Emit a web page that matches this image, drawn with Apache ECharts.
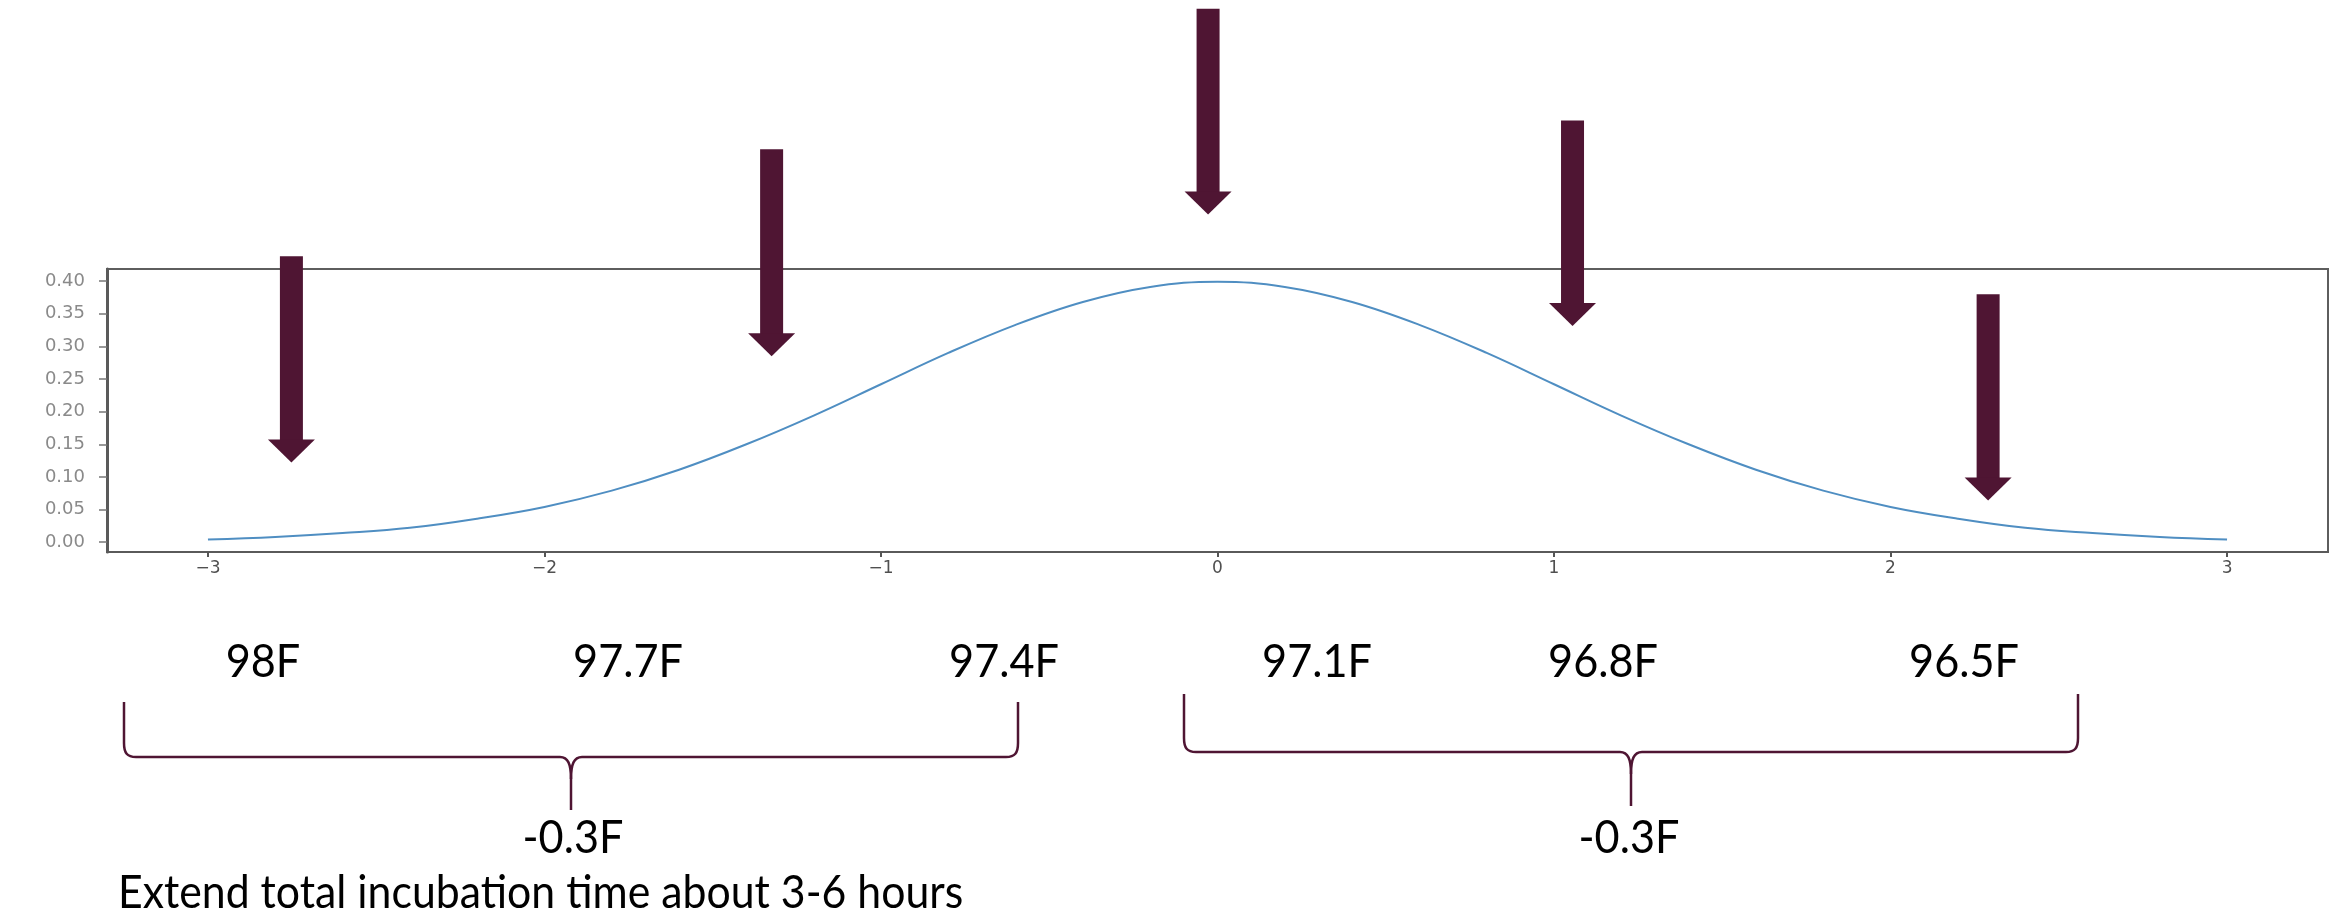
<!DOCTYPE html>
<html>
<head>
<meta charset="utf-8">
<script src="https://cdn.jsdelivr.net/npm/echarts@6/dist/echarts.min.js"></script>
<style>
html,body{margin:0;padding:0;background:#fff;}
#chart{width:2340px;height:919px;}
</style>
</head>
<body>
<div id="chart"></div>
<script>
// ---- data ----
var curveX = [-3, -2.8, -2.6, -2.4, -2.2, -2, -1.8, -1.6, -1.4, -1.2, -1, -0.8, -0.6, -0.4, -0.2, 0, 0.2, 0.4, 0.6, 0.8, 1, 1.2, 1.4, 1.6, 1.8, 2, 2.2, 2.4, 2.6, 2.8, 3];
var curveY = [0.004, 0.008, 0.014, 0.022, 0.036, 0.054, 0.079, 0.111, 0.150, 0.194, 0.242, 0.290, 0.333, 0.368, 0.391, 0.399, 0.391, 0.368, 0.333, 0.290, 0.242, 0.194, 0.150, 0.111, 0.079, 0.054, 0.036, 0.022, 0.014, 0.008, 0.004];
var xTicks = [-3, -2, -1, 0, 1, 2, 3];
var yTicks = [0, 0.05, 0.10, 0.15, 0.20, 0.25, 0.30, 0.35, 0.40];
var arrowX = [-2.752, -1.325, -0.028, 1.055, 2.290];
var arrowTip = [0.122, 0.285, 0.502, 0.331, 0.064];
var arrowTail = [0.438, 0.602, 0.817, 0.646, 0.380];
var tempLabels = ['98F', '97.7F', '97.4F', '97.1F', '96.8F', '96.5F'];
var stepLabels = ['-0.3F', '-0.3F'];
var footnote = 'Extend total incubation time about 3-6 hours';

// ---- build ----
var MAROON = '#4f1533';
var lineData = curveX.map(function (x, i) { return [x, curveY[i]]; });
var arrowData = arrowX.map(function (x, i) { return [x, arrowTip[i], arrowTail[i]]; });

var tempX = [263, 628, 1004, 1317, 1603, 1964];
var textFont = 'Lato, "Noto Sans", sans-serif';
var graphics = [];
tempLabels.forEach(function (t, i) {
  graphics.push({ type: 'text', x: tempX[i], y: 662, scaleX: 0.92, style: { text: t, fontSize: 47, fontFamily: textFont, fill: '#000', align: 'center', verticalAlign: 'middle' } });
});
var stepX = [573, 1629];
stepLabels.forEach(function (t, i) {
  graphics.push({ type: 'text', x: stepX[i], y: 838, scaleX: 0.92, style: { text: t, fontSize: 47, fontFamily: textFont, fill: '#000', align: 'center', verticalAlign: 'middle' } });
});
graphics.push({ type: 'text', x: 118, y: 893, scaleX: 0.93, style: { text: footnote, fontSize: 46, fontFamily: textFont, fill: '#000', align: 'left', verticalAlign: 'middle' } });

function brace(x0, x1, yTop, yH, yBot) {
  var xm = (x0 + x1) / 2;
  var st = { stroke: MAROON, lineWidth: 2.5, fill: null };
  function ln(a, b, c, d) { return { type: 'line', shape: { x1: a, y1: b, x2: c, y2: d }, style: st }; }
  function bz(a, b, c1x, c1y, c2x, c2y, c, d) {
    return { type: 'bezierCurve', shape: { x1: a, y1: b, cpx1: c1x, cpy1: c1y, cpx2: c2x, cpy2: c2y, x2: c, y2: d }, style: st };
  }
  return {
    type: 'group',
    children: [
      ln(x0, yTop, x0, yH - 14),
      bz(x0, yH - 14, x0, yH - 4, x0 + 3, yH, x0 + 12, yH),
      ln(x0 + 12, yH, xm - 11, yH),
      bz(xm - 11, yH, xm - 3, yH, xm, yH + 7, xm, yH + 22),
      ln(xm, yH + 22, xm, yBot),
      bz(xm, yH + 22, xm, yH + 7, xm + 3, yH, xm + 11, yH),
      ln(xm + 11, yH, x1 - 12, yH),
      bz(x1 - 12, yH, x1 - 3, yH, x1, yH - 4, x1, yH - 14),
      ln(x1, yH - 14, x1, yTop)
    ]
  };
}
graphics.push(brace(124, 1018, 702, 757, 810));
graphics.push(brace(1184, 2078, 694, 752, 806));

var chart = echarts.init(document.getElementById('chart'), null, { renderer: 'canvas' });
chart.setOption({
  backgroundColor: '#fff',
  animation: false,
  grid: { left: 107, right: 12, top: 269, bottom: 367, show: true, borderColor: '#5e5e5e', borderWidth: 2, backgroundColor: 'transparent' },
  xAxis: {
    type: 'value', min: -3.3, max: 3.3,
    splitLine: { show: false },
    axisLine: { show: true, onZero: false, lineStyle: { color: '#5a5a5a', width: 2 } },
    axisTick: { show: true, length: 5, lineStyle: { color: '#555', width: 2 }, customValues: xTicks },
    axisLabel: { show: true, margin: 8, fontSize: 17, fontFamily: 'DejaVu Sans', color: '#505050', customValues: xTicks,
      formatter: function (v) { return v < 0 ? '\u2212' + Math.abs(v) : String(v); } }
  },
  yAxis: {
    type: 'value', min: -0.015, max: 0.4185,
    splitLine: { show: false },
    axisLine: { show: true, onZero: false, lineStyle: { color: '#5a5a5a', width: 3 } },
    axisTick: { show: true, length: 8, lineStyle: { color: '#777', width: 1.5 }, customValues: yTicks },
    axisLabel: { show: true, margin: 22, fontSize: 18, fontFamily: 'DejaVu Sans', color: '#8a8a8a', customValues: yTicks,
      formatter: function (v) { return v.toFixed(2); } }
  },
  series: [
    {
      type: 'line', data: lineData, smooth: 0.4, showSymbol: false, symbol: 'none',
      lineStyle: { color: '#4f8ec2', width: 2 }, z: 3
    },
    {
      type: 'custom', data: arrowData, clip: false, z: 10,
      encode: { x: 0, y: [1, 2] },
      renderItem: function (params, api) {
        var tip = api.coord([api.value(0), api.value(1)]);
        var tail = api.coord([api.value(0), api.value(2)]);
        var sw = 23, hw = 47, hl = 23;
        var headTop = tip[1] - hl;
        return {
          type: 'group',
          children: [
            { type: 'rect', shape: { x: tail[0] - sw / 2, y: tail[1], width: sw, height: headTop - tail[1] + 1 }, style: { fill: MAROON } },
            { type: 'polygon', shape: { points: [[tip[0] - hw / 2, headTop], [tip[0] + hw / 2, headTop], [tip[0], tip[1]]] }, style: { fill: MAROON } }
          ]
        };
      }
    }
  ],
  graphic: graphics
});
</script>
</body>
</html>
